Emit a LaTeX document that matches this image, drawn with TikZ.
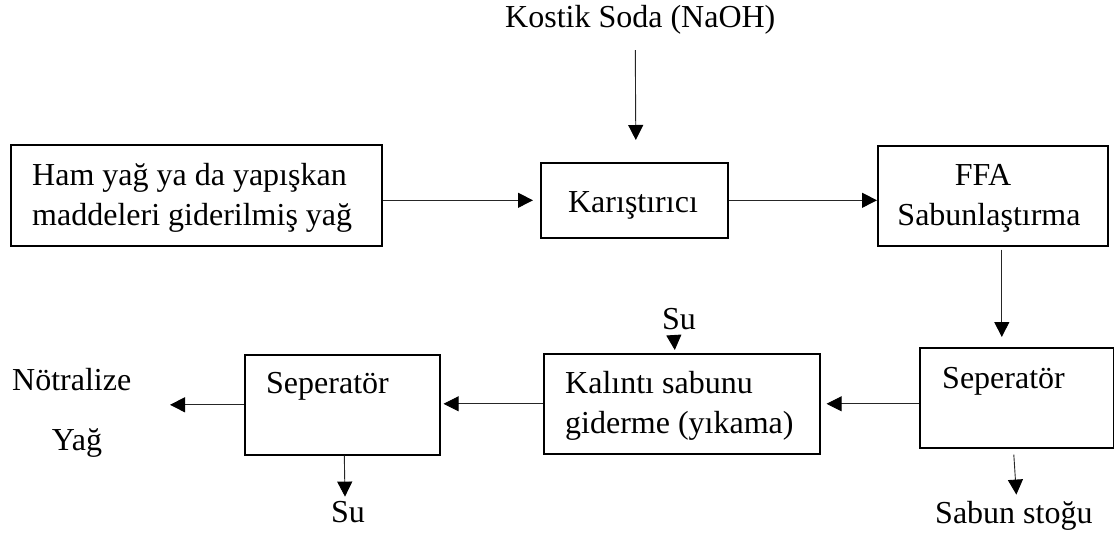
\documentclass[tikz,border=0pt]{standalone}
\usepackage{fontspec}
\setmainfont{Liberation Serif}
\usetikzlibrary{arrows.meta}
\begin{document}
\begin{tikzpicture}[x=1pt,y=-1pt,
  font=\fontsize{32}{40}\selectfont,
  box/.style={draw=black,line width=1.6pt,inner sep=0pt,anchor=north west,rectangle},
  lbl/.style={inner sep=0pt,anchor=base west},
  clbl/.style={inner sep=0pt,anchor=base},
  conn/.style={draw=black!85,line width=0.9pt,-{Triangle[length=15pt,width=15pt,fill=black,color=black]}}]
\useasboundingbox (0,0) rectangle (1114,535);

% boxes
\node[box,minimum width=371pt,minimum height=101pt] (b1) at (10,144) {};
\node[box,minimum width=187pt,minimum height=75pt] (kar) at (540,162) {};
\node[box,minimum width=230pt,minimum height=100pt] (ffa) at (877,145) {};
\node[box,minimum width=194pt,minimum height=100pt] (rsep) at (919,347) {};
\node[box,minimum width=276pt,minimum height=100pt] (kal) at (543,353) {};
\node[box,minimum width=195pt,minimum height=100pt] (lsep) at (244,354) {};

% texts
\node[lbl] (kostik) at (505,28) {Kostik Soda (NaOH)};
\node[lbl] (b1a) at (32,185) {Ham yağ ya da yapışkan};
\node[lbl] (b1b) at (32,225) {maddeleri giderilmiş yağ};
\node[clbl] (kart) at (633,212) {Karıştırıcı};
\node[clbl] (ffat) at (983,185) {FFA};
\node[clbl] (ffab) at (989,225) {Sabunlaştırma};
\node[lbl] (rsept) at (942,388) {Seperatör};
\node[lbl] (sabun) at (935,523) {Sabun stoğu};
\node[lbl] (kala) at (565,393) {Kalıntı sabunu};
\node[lbl] (kalb) at (565,433) {giderme (yıkama)};
\node[clbl] (su1) at (679,329) {Su};
\node[lbl] (lsept) at (266,393) {Seperatör};
\node[clbl] (su2) at (348,522) {Su};
\node[lbl] (notr) at (12,390) {Nötralize};
\node[clbl] (yag) at (77,450) {Yağ};

\coordinate (out) at (170,404);

% connectors
\draw[conn] ([xshift=-5pt,yshift=-15pt]kostik.south) -- ([xshift=1.5pt,yshift=22pt]kar.north);
\draw[conn,shorten >=7pt] (b1.east |- kar.west) -- (kar.west);
\draw[conn] (kar.east) -- (kar.east -| ffa.west);
\draw[conn] ([xshift=9pt,yshift=-3pt]ffa.south) -- ([xshift=-15pt,yshift=10pt]rsep.north);
\draw[conn,shorten >=6pt] (rsep.west |- kal.east) -- (kal.east);
\draw[conn] ([xshift=-5pt,yshift=-8pt]su1.south) -- ([xshift=-7pt,yshift=3pt]kal.north);
\draw[conn,shorten >=3pt] (kal.west) -- (kal.west -| lsep.east);
\draw[conn] (lsep.west) -- (lsep.west -| out);
\draw[conn] ([xshift=2pt]lsep.south) -- ([xshift=-3pt,yshift=4pt]su2.north);
\draw[conn] ([xshift=-3pt,yshift=-6pt]rsep.south) -- ([xshift=2.5pt,yshift=6pt]sabun.north);
\end{tikzpicture}
\end{document}
